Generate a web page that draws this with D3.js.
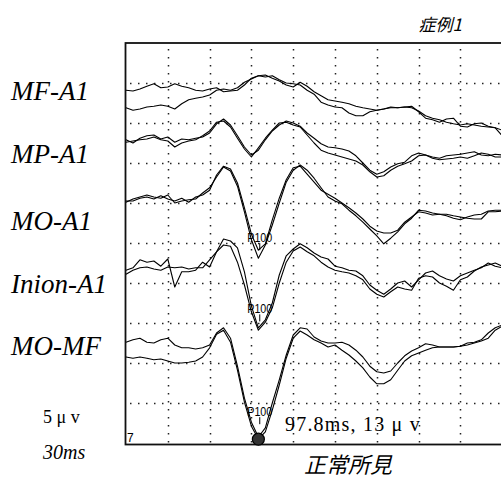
<!DOCTYPE html>
<html>
<head>
<meta charset="utf-8">
<script src="https://cdn.jsdelivr.net/npm/d3@7/dist/d3.min.js"></script>
<style>
  body { margin: 0; background: #fff; }
  svg { display: block; }
</style>
</head>
<body>
<div id="chart"></div>
<script>
// sampling of the traces, read every 5 ms off the record
const sampleStepMs = 5;
const sweepMs = 300;
const gridStepMs = 30;
const gridStepUv = 5;
const displayRangeUv = 50;

const channels = ["MF-A1", "MP-A1", "MO-A1", "Inion-A1", "MO-MF"];
// where each channel's zero sits, in uV from the top of the screen
const channelOffsetUv = [7, 12, 19.5, 28.5, 38.5];

// two superimposed runs per channel, uV, positive drawn downward
const mfA1Run1 = [-1.1, -1.0, -1.25, -1.6, -1.9, -1.4, -1.5, -1.9, -1.6, -1.4, -1.1, -1.0, -1.25, -1.4, -0.9, -1.0, -1.1, -1.75, -2.6, -2.9, -3.0, -2.6, -2.25, -1.75, -1.5, -2.1, -1.6, -0.9, -0.4, 0.1, 0.25, 0.4, 0.6, 0.9, 1.1, 1.25, 1.4, 1.25, 1.1, 1.1, 1.0, 1.1, 1.5, 2.1, 2.4, 2.6, 2.9, 3.1, 3.25, 3.1, 3.25, 3.4, 3.5, 3.6, 3.9];
const mfA1Run2 = [1.1, 1.4, 1.25, 1.0, 0.9, 0.75, 0.9, 1.25, 0.6, 0.1, -0.1, -0.25, -0.5, -1.1, -1.25, -1.1, -1.4, -2.1, -2.5, -2.9, -2.75, -2.9, -2.4, -2.0, -1.9, -1.75, -1.1, -0.6, 0.4, 0.75, 1.0, 1.1, 1.75, 2.1, 2.1, 1.6, 1.4, 1.25, 1.0, 1.1, 1.0, 0.9, 1.6, 2.4, 2.6, 2.9, 2.5, 2.4, 3.4, 3.5, 3.1, 3.0, 3.4, 3.6, 4.6];
const mpA1Run1 = [0.1, 0.5, -0.1, -0.4, -0.5, 0, -0.25, 0.4, 0, 0.1, -0.1, -0.25, -0.75, -1.9, -2.5, -1.75, -0.4, 1.0, 2.0, 1.4, 0.1, -1.0, -1.75, -2.25, -2.0, -1.6, -0.75, -0.1, 0.6, 1.0, 1.1, 1.25, 1.5, 2.1, 3.0, 3.9, 4.4, 4.1, 3.5, 3.1, 2.9, 2.1, 1.75, 2.0, 2.25, 2.4, 2.1, 2.0, 1.9, 1.75, 1.6, 2.0, 2.1, 1.9, 2.0];
const mpA1Run2 = [0.4, 0.25, 0.1, 0, -0.25, 0.1, 0.25, 1.0, 0.5, 0.25, 0.1, -0.4, -1.0, -2.1, -2.25, -1.5, -0.1, 1.25, 2.25, 1.1, -0.1, -1.1, -2.0, -2.1, -1.75, -1.5, -0.5, 0.5, 1.4, 1.75, 2.0, 2.25, 2.5, 2.75, 3.25, 4.1, 4.75, 4.6, 3.9, 3.4, 3.1, 2.75, 2.1, 2.0, 2.4, 2.6, 2.5, 2.4, 2.25, 2.4, 2.1, 1.75, 1.9, 2.25, 2.25];
const moA1Run1 = [0.4, 0, -0.25, -0.5, -0.25, -0.1, -0.5, 0.5, 0.25, 0.1, 0, -0.75, -1.4, -2.75, -4.0, -3.5, -1.6, 1.6, 5.1, 7.4, 5.75, 3.25, 0.5, -2.1, -3.6, -4.25, -3.6, -2.6, -1.4, -0.25, 0.25, 0.6, 1.4, 2.1, 2.9, 3.75, 4.6, 5.6, 4.9, 4.1, 3.1, 2.4, 1.4, 1.5, 1.75, 1.9, 2.1, 2.4, 2.6, 2.25, 2.0, 1.9, 1.5, 1.4, 1.4];
const moA1Run2 = [0.25, 0.25, -0.1, -0.25, 0, -0.4, 0, 0.25, -0.1, 0.4, -0.25, -0.5, -1.1, -3.0, -4.1, -3.75, -2.0, 1.1, 4.4, 6.4, 5.6, 2.6, -0.1, -2.4, -3.9, -4.1, -3.1, -2.1, -1.1, -0.6, -0.1, 0.5, 1.1, 1.75, 2.5, 3.4, 4.0, 4.25, 4.25, 3.9, 2.9, 2.25, 1.6, 1.75, 2.0, 1.9, 1.9, 2.1, 2.25, 2.4, 2.5, 2.5, 1.6, 1.6, 1.5];
const inionA1Run1 = [-0.1, -0.4, -1.4, -1.1, -1.25, -0.6, -1.5, 2.0, 0.1, 0.1, -0.1, -1.1, -0.5, -2.4, -4.0, -3.75, -2.9, 0.1, 4.4, 7.1, 6.1, 4.0, 0.5, -1.9, -2.75, -3.4, -2.9, -2.25, -1.75, -1.5, -0.6, -0.4, -0.1, 0, 0.6, 1.75, 2.4, 2.9, 2.25, 1.5, 1.25, 2.0, 1.1, 0.25, 0, 0.6, 1.0, 1.25, 0.6, 0.25, -0.1, -0.4, -1.0, -0.6, -0.4];
const inionA1Run2 = [0.4, -0.1, -0.4, -0.5, -0.25, -0.1, -0.5, -0.4, -0.5, -0.25, -0.4, -0.4, -1.4, -2.4, -3.25, -3.1, -1.1, 1.75, 5.1, 7.4, 6.4, 4.6, 1.5, -1.1, -2.5, -3.0, -2.4, -1.9, -1.1, -0.5, -0.1, 0.1, 0.25, 0.6, 1.1, 2.25, 2.9, 3.25, 2.6, 2.0, 2.25, 2.4, 0.9, 0.6, 0.75, 1.5, 1.9, 2.4, 1.1, 0.75, 0, -0.5, -0.75, -1.0, -0.6];
const moMfRun1 = [-1.1, -1.4, -1.6, -1.1, -1.0, -1.4, -1.6, -0.75, -0.4, -0.4, -0.25, -0.4, -0.75, -2.25, -2.9, -1.6, 1.9, 5.9, 8.9, 10.75, 9.6, 6.5, 3.6, 0.5, -2.0, -2.9, -2.75, -1.75, -1.25, -1.0, -1.0, -1.1, -0.75, -0.1, 0.75, 1.9, 2.6, 2.75, 2.5, 1.5, 0.6, 0, -0.4, -0.9, -0.75, -0.5, -0.5, -0.5, -0.6, -1.0, -1.1, -1.4, -2.25, -2.9, -3.25];
const moMfRun2 = [0.75, 0.9, 0.75, 0.9, 1.1, 1.0, 1.25, 1.5, 1.5, 1.4, 1.25, 0.75, -0.4, -2.1, -2.6, -1.1, 2.4, 6.4, 9.4, 11.0, 10.1, 7.4, 4.25, 0.9, -1.6, -2.5, -2.0, -1.4, -1.0, -0.5, -0.75, -0.1, 0.5, 1.25, 2.1, 3.25, 4.1, 4.1, 3.6, 2.4, 1.25, 0.6, 0.25, -0.1, -0.4, -0.5, -0.5, -0.5, -0.6, -0.75, -1.0, -1.25, -1.6, -2.6, -3.1];

// P100 marks
const p100Channels = ["MO-A1", "Inion-A1", "MO-MF"];
const p100LatencyMs = [96, 96, 96];
const p100AmplitudeUv = [7.4, 7.3, 10.9];
const markerLatencyMs = 95;
const markerText = "97.8ms, 13 \u03bc v";

const runs = [
  [mfA1Run1, mfA1Run2],
  [mpA1Run1, mpA1Run2],
  [moA1Run1, moA1Run2],
  [inionA1Run1, inionA1Run2],
  [moMfRun1, moMfRun2],
];

const width = 501;
const height = 479;
const plot = { left: 126, top: 43, right: 544, bottom: 443 };
const labelBaselines = [100, 163, 230, 293, 355];

const serif = "'Liberation Serif', 'Times New Roman', serif";
const sans = "'Liberation Sans', Arial, sans-serif";
const cjk = "'Noto Sans CJK JP', sans-serif";

const x = d3.scaleLinear().domain([0, sweepMs]).range([plot.left, plot.right]);
const y = d3
  .scaleLinear()
  .domain([0, displayRangeUv])
  .range([plot.top, plot.bottom]);

const svg = d3
  .select("#chart")
  .append("svg")
  .attr("width", width)
  .attr("height", height)
  .attr("viewBox", [0, 0, width, height]);

svg.append("rect").attr("width", width).attr("height", height).attr("fill", "#fff");

// dotted grid
const gridG = svg
  .append("g")
  .attr("stroke", "#222")
  .attr("stroke-width", 1.5)
  .attr("stroke-dasharray", "1.5,6.5");

gridG
  .selectAll(".h")
  .data(d3.range(gridStepUv, displayRangeUv, gridStepUv))
  .join("line")
  .attr("class", "h")
  .attr("x1", plot.left + 4)
  .attr("x2", plot.right)
  .attr("y1", (d) => Math.round(y(d)) + 0.5)
  .attr("y2", (d) => Math.round(y(d)) + 0.5);

gridG
  .selectAll(".v")
  .data(d3.range(gridStepMs, sweepMs, gridStepMs))
  .join("line")
  .attr("class", "v")
  .attr("x1", (d) => Math.round(x(d)) + 0.5)
  .attr("x2", (d) => Math.round(x(d)) + 0.5)
  .attr("y1", plot.top + 6)
  .attr("y2", plot.bottom);

// frame
svg
  .append("rect")
  .attr("x", plot.left - 0.5)
  .attr("y", plot.top)
  .attr("width", plot.right - plot.left)
  .attr("height", plot.bottom - plot.top + 1.5)
  .attr("fill", "none")
  .attr("stroke", "#111")
  .attr("stroke-width", 1.8);

// traces
const line = d3
  .line()
  .x((d, i) => x(i * sampleStepMs))
  .y((d) => d);

const traceG = svg
  .append("g")
  .attr("fill", "none")
  .attr("stroke", "#000")
  .attr("stroke-width", 1.1)
  .attr("stroke-linejoin", "round");

runs.forEach((pair, c) => {
  pair.forEach((values) => {
    traceG
      .append("path")
      .attr("d", line(values.map((v) => y(channelOffsetUv[c] + v))));
  });
});

// P100 labels
p100Channels.forEach((name, i) => {
  const c = channels.indexOf(name);
  const px = x(p100LatencyMs[i]);
  const py = y(channelOffsetUv[c] + p100AmplitudeUv[i]);
  const gap = name === "MO-MF" ? 22 : 16;
  svg
    .append("text")
    .attr("x", px - 12.5)
    .attr("y", py - gap)
    .attr("font-family", sans)
    .attr("font-size", 13)
    .attr("textLength", 25)
    .attr("lengthAdjust", "spacingAndGlyphs")
    .attr("fill", "#000")
    .text("P100");
  svg
    .append("line")
    .attr("x1", px)
    .attr("x2", px)
    .attr("y1", py - gap + 1)
    .attr("y2", py - gap + 8)
    .attr("stroke", "#000")
    .attr("stroke-width", 1);
});

// marker dot on MO-MF
svg
  .append("circle")
  .attr("cx", x(markerLatencyMs))
  .attr("cy", y(channelOffsetUv[4] + p100AmplitudeUv[2]) + 1)
  .attr("r", 6)
  .attr("fill", "#333")
  .attr("stroke", "#000")
  .attr("stroke-width", 1.2);

svg
  .append("text")
  .attr("x", 285)
  .attr("y", 431)
  .attr("font-family", serif)
  .attr("font-size", 20)
  .attr("letter-spacing", 1.2)
  .text(markerText);

svg
  .append("text")
  .attr("x", 127)
  .attr("y", 442)
  .attr("font-family", sans)
  .attr("font-size", 12)
  .text("7");

// channel labels
svg
  .append("g")
  .selectAll("text")
  .data(channels)
  .join("text")
  .attr("x", 11)
  .attr("y", (d, i) => labelBaselines[i])
  .attr("font-family", serif)
  .attr("font-style", "italic")
  .attr("font-size", 27)
  .text((d) => d);

// calibration
svg
  .append("text")
  .attr("x", 43)
  .attr("y", 423)
  .attr("font-family", serif)
  .attr("font-size", 18)
  .text("5 \u03bc v");

svg
  .append("text")
  .attr("x", 43)
  .attr("y", 459)
  .attr("font-family", serif)
  .attr("font-style", "italic")
  .attr("font-size", 20)
  .text("30ms");

// titles
svg
  .append("text")
  .attr("x", 462)
  .attr("y", 31)
  .attr("text-anchor", "end")
  .attr("font-family", cjk)
  .attr("font-style", "italic")
  .attr("font-size", 17)
  .text("症例1");

svg
  .append("text")
  .attr("x", 348)
  .attr("y", 473)
  .attr("text-anchor", "middle")
  .attr("font-family", cjk)
  .attr("font-style", "italic")
  .attr("font-size", 22)
  .text("正常所見");
</script>
</body>
</html>
